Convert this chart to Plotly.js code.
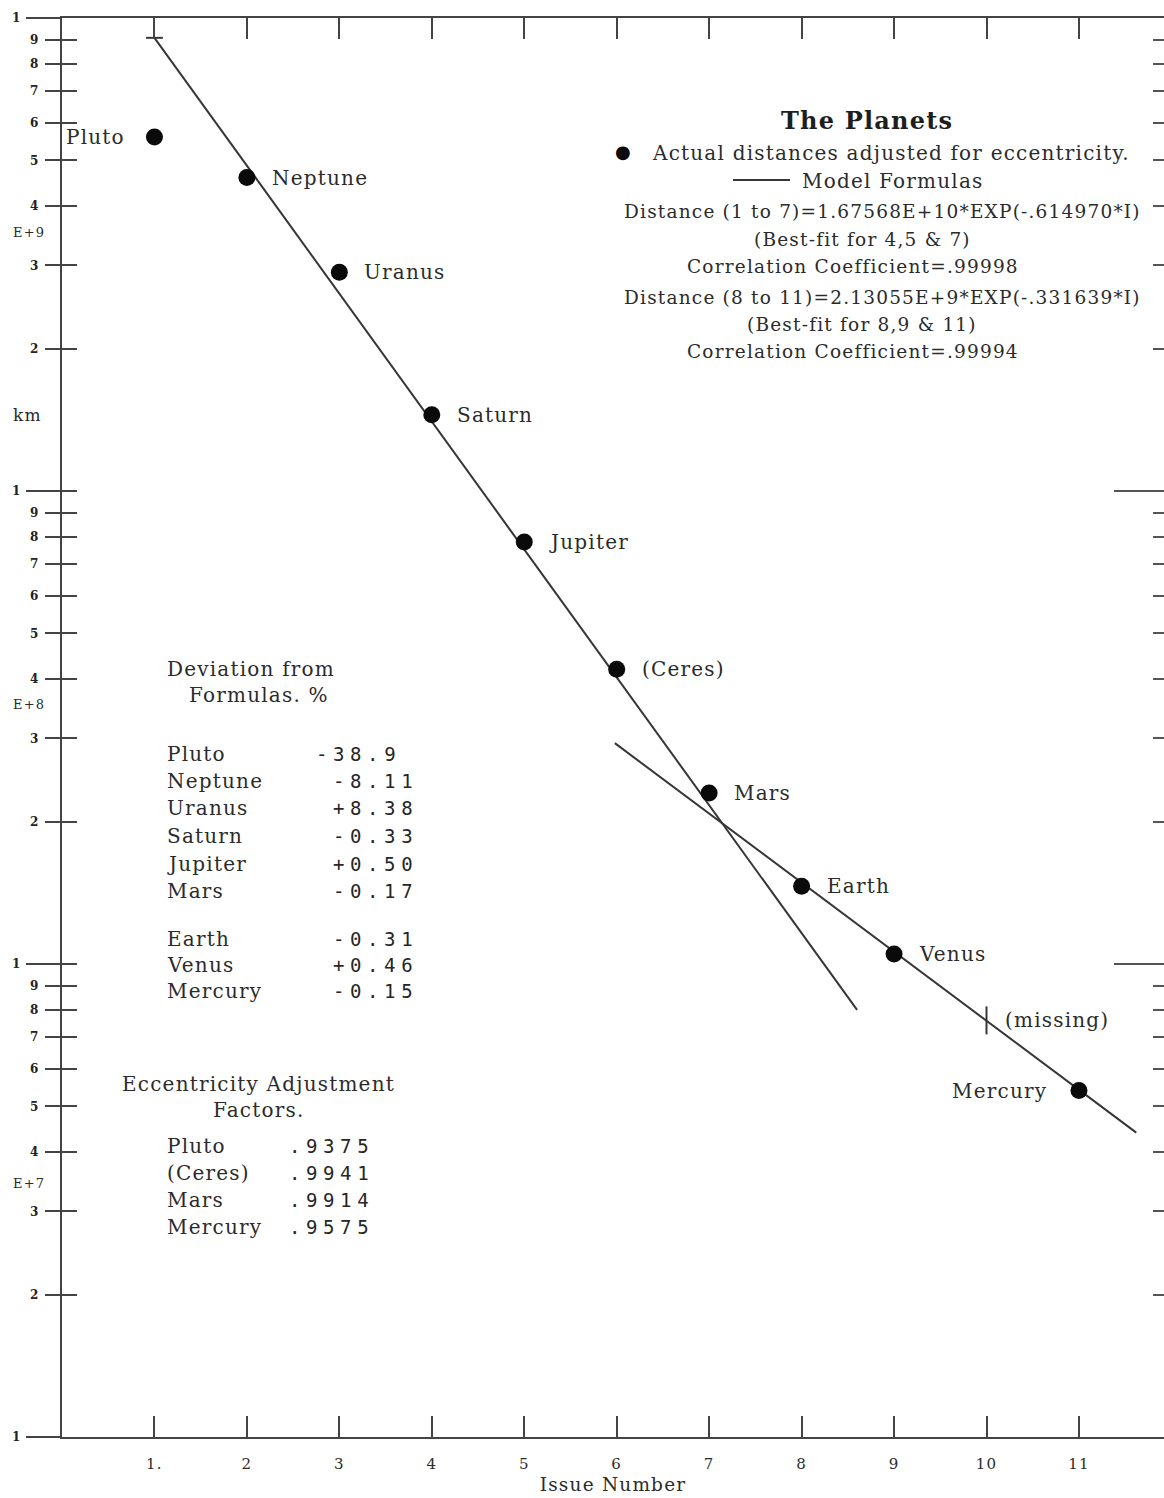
<!DOCTYPE html>
<html><head><meta charset="utf-8">
<script src="https://cdn.plot.ly/plotly-3.0.1.min.js"></script>
<style>
html,body{margin:0;padding:0;background:#fff}
svg text{letter-spacing:1.2px}
svg text[style*="DejaVu Sans Mono"]{letter-spacing:5.6px}
</style>
</head><body><div id="chart" style="width:1164px;height:1498px"></div>
<script>
// ---- data ----
const issueNumbers = [1, 2, 3, 4, 5, 6, 7, 8, 9, 11];
const planetNames = ["Pluto", "Neptune", "Uranus", "Saturn", "Jupiter", "(Ceres)", "Mars", "Earth", "Venus", "Mercury"];
const distancesKm = [5.6e9, 4.6e9, 2.9e9, 1.45e9, 7.8e8, 4.2e8, 2.3e8, 1.46e8, 1.05e8, 5.4e7];
const labelOnLeft = [true, false, false, false, false, false, false, false, false, true];

const modelAX = [1, 8.6];
const modelAY = [9.08e9, 8.0e7];
const modelBX = [5.98, 11.62];
const modelBY = [2.93e8, 4.4e7];
const missingX = [10];
const missingY = [7.6e7];

const xTickVals = [1, 2, 3, 4, 5, 6, 7, 8, 9, 10, 11];
const xTickText = ["1.", "2", "3", "4", "5", "6", "7", "8", "9", "10", "11"];

const decadeVals = [1e7, 1e8, 1e9, 1e10];
const decadeText = ["1", "1", "1", "1"];
const minorDigits = [2, 3, 4, 5, 6, 7, 8, 9];

const devNames = ["Pluto", "Neptune", "Uranus", "Saturn", "Jupiter", "Mars", "Earth", "Venus", "Mercury"];
const devValues = ["-38.9", "-8.11", "+8.38", "-0.33", "+0.50", "-0.17", "-0.31", "+0.46", "-0.15"];
const eccNames = ["Pluto", "(Ceres)", "Mars", "Mercury"];
const eccValues = [".9375", ".9941", ".9914", ".9575"];

const formulaLines = [
  "Distance (1 to 7)=1.67568E+10*EXP(-.614970*I)",
  "(Best-fit for 4,5 & 7)",
  "Correlation Coefficient=.99998",
  "Distance (8 to 11)=2.13055E+9*EXP(-.331639*I)",
  "(Best-fit for 8,9 & 11)",
  "Correlation Coefficient=.99994"
];

// ---- layout helpers ----
const W = 1164, H = 1498, ML = 62, MT = 18, MR = 0, MB = 61;
const PW = W - ML - MR, PH = H - MT - MB;
const px = x => (x - ML) / PW;
const py = y => 1 - (y - MT) / PH;

const minorVals = [];
const minorText = [];
[1e7, 1e8, 1e9].forEach(d => minorDigits.forEach(k => { minorVals.push(k * d); minorText.push("<b>" + k + "</b>"); }));
const allVals = decadeVals.concat(minorVals);

const serif = "DejaVu Serif";
const mono = "DejaVu Sans Mono";
const ink = "#2b2b2b";
const lineInk = "#363636";

const traces = [
  {x: modelAX, y: modelAY, mode: "lines", line: {color: lineInk, width: 2}, hoverinfo: "skip", showlegend: false},
  {x: modelBX, y: modelBY, mode: "lines", line: {color: lineInk, width: 2}, hoverinfo: "skip", showlegend: false},
  {x: [modelAX[0]], y: [modelAY[0]], mode: "markers", marker: {symbol: "line-ew", size: 12, line: {color: lineInk, width: 2}}, showlegend: false, hoverinfo: "skip"},
  {x: missingX, y: missingY, mode: "markers", marker: {symbol: "line-ns", size: 20, line: {color: lineInk, width: 2}}, showlegend: false, hoverinfo: "skip"},
  {x: issueNumbers, y: distancesKm, mode: "markers", marker: {color: "#0a0a0a", size: 17}, showlegend: false, hoverinfo: "skip"},
  {x: [], y: [], yaxis: "y2", showlegend: false},
  {x: [], y: [], yaxis: "y3", showlegend: false},
  {x: [], y: [], yaxis: "y4", showlegend: false},
  {x: [], y: [], yaxis: "y5", showlegend: false}
];

const yBase = {type: "log", range: [7, 10], autorange: false, showgrid: false, zeroline: false, fixedrange: true};

const annotations = [];
function ann(text, x, y, o) {
  annotations.push(Object.assign({text: text, xref: "paper", yref: "paper", x: px(x), y: py(y), showarrow: false,
    xanchor: "center", yanchor: "middle", font: {family: serif, size: 20, color: ink}}, o || {}));
}
// planet labels next to their points (data coordinates)
planetNames.forEach((n, i) => {
  annotations.push({text: n, xref: "x", yref: "y", x: issueNumbers[i], y: Math.log10(distancesKm[i]),
    showarrow: false, xanchor: labelOnLeft[i] ? "right" : "left", yanchor: "middle",
    xshift: labelOnLeft[i] ? (i === 0 ? -27 : -30) : 23, yshift: 0,
    font: {family: serif, size: 20, color: ink}});
});
annotations.push({text: "(missing)", xref: "x", yref: "y", x: missingX[0], y: Math.log10(missingY[0]),
  showarrow: false, xanchor: "left", yanchor: "middle", xshift: 16, font: {family: serif, size: 20, color: ink}});

ann("<b>The Planets</b>", 867, 120, {font: {family: serif, size: 24, color: "#1e1e1e"}});
ann("●", 623, 151, {font: {family: "DejaVu Sans", size: 18, color: "#0a0a0a"}});
ann("Actual distances adjusted for eccentricity.", 650, 153, {xanchor: "left"});
ann("Model Formulas", 800, 181, {xanchor: "left"});
const fY = [211, 239, 266, 297, 325, 352];
const fX = [883, 862, 853, 883, 862, 853];
formulaLines.forEach((t, i) => ann(t, fX[i], fY[i], {font: {family: serif, size: 18.5, color: ink}}));

const monoFont = {family: mono, size: 19, color: "#262626"};
const monoAdv = 19 * 0.602 + 5.6;
ann("Deviation from", 251, 669);
ann("Formulas. %", 259, 695);
const devY = [754, 781, 808, 836, 864, 891, 939, 965, 991];
const devDotX = 365;
devNames.forEach((n, i) => {
  ann(n, 165, devY[i], {xanchor: "left"});
  ann(devValues[i], devDotX - devValues[i].indexOf(".") * monoAdv, devY[i], {xanchor: "left", font: monoFont});
});
ann("Eccentricity Adjustment", 258, 1084);
ann("Factors.", 259, 1110);
const eccY = [1146, 1173, 1200, 1227];
eccNames.forEach((n, i) => {
  ann(n, 165, eccY[i], {xanchor: "left"});
  ann(eccValues[i], 287, eccY[i], {xanchor: "left", font: monoFont});
});
const unitFont = {family: serif, size: 13, color: ink};
ann("E+9", 29, 233, {font: unitFont});
ann("km", 27, 415, {font: {family: serif, size: 17, color: ink}});
ann("E+8", 29, 704, {font: unitFont});
ann("E+7", 29, 1183, {font: unitFont});

const layout = {
  width: W, height: H,
  margin: {l: ML, r: MR, t: MT, b: MB, pad: 0},
  paper_bgcolor: "#ffffff", plot_bgcolor: "#ffffff",
  showlegend: false,
  xaxis: {range: [0, 11.92], autorange: false, showgrid: false, zeroline: false, fixedrange: true,
    showline: true, linecolor: "#444", linewidth: 2, mirror: "ticks",
    ticks: "inside", ticklen: 21, tickwidth: 2, tickcolor: "#444",
    tickvals: xTickVals, ticktext: xTickText, ticklabelstandoff: 12,
    tickfont: {family: serif, size: 15, color: ink},
    title: {text: "Issue Number", font: {family: serif, size: 18.5, color: ink}, standoff: 6}},
  yaxis: Object.assign({}, yBase, {showline: true, linecolor: "#444", linewidth: 2,
    ticks: "outside", ticklen: 34, tickwidth: 2, tickcolor: "#444",
    tickvals: decadeVals, ticktext: decadeText.map(t => "<b>" + t + "</b>"), ticklabelstandoff: 2,
    tickfont: {family: serif, size: 12, color: "#222"}}),
  yaxis2: Object.assign({}, yBase, {overlaying: "y", side: "left", showline: false,
    ticks: "inside", ticklen: 15, tickwidth: 2, tickcolor: "#444", tickvals: allVals, showticklabels: false}),
  yaxis3: Object.assign({}, yBase, {overlaying: "y", side: "left", showline: false,
    ticks: "outside", ticklen: 16, tickwidth: 2, tickcolor: "#444", tickvals: minorVals, ticktext: minorText,
    ticklabelstandoff: 3, tickfont: {family: serif, size: 12, color: "#222"}}),
  yaxis4: Object.assign({}, yBase, {overlaying: "y", side: "right", showline: false,
    ticks: "inside", ticklen: 11, tickwidth: 2, tickcolor: "#555", tickvals: minorVals, showticklabels: false}),
  yaxis5: Object.assign({}, yBase, {overlaying: "y", side: "right", showline: false,
    ticks: "inside", ticklen: 50, tickwidth: 2, tickcolor: "#555", tickvals: [1e8, 1e9], showticklabels: false}),
  shapes: [
    {type: "line", xref: "paper", yref: "paper", x0: px(733), x1: px(790), y0: py(180), y1: py(180), line: {color: lineInk, width: 2}}
  ],
  annotations: annotations
};

Plotly.newPlot("chart", traces, layout, {staticPlot: true, displayModeBar: false});
</script></body></html>
